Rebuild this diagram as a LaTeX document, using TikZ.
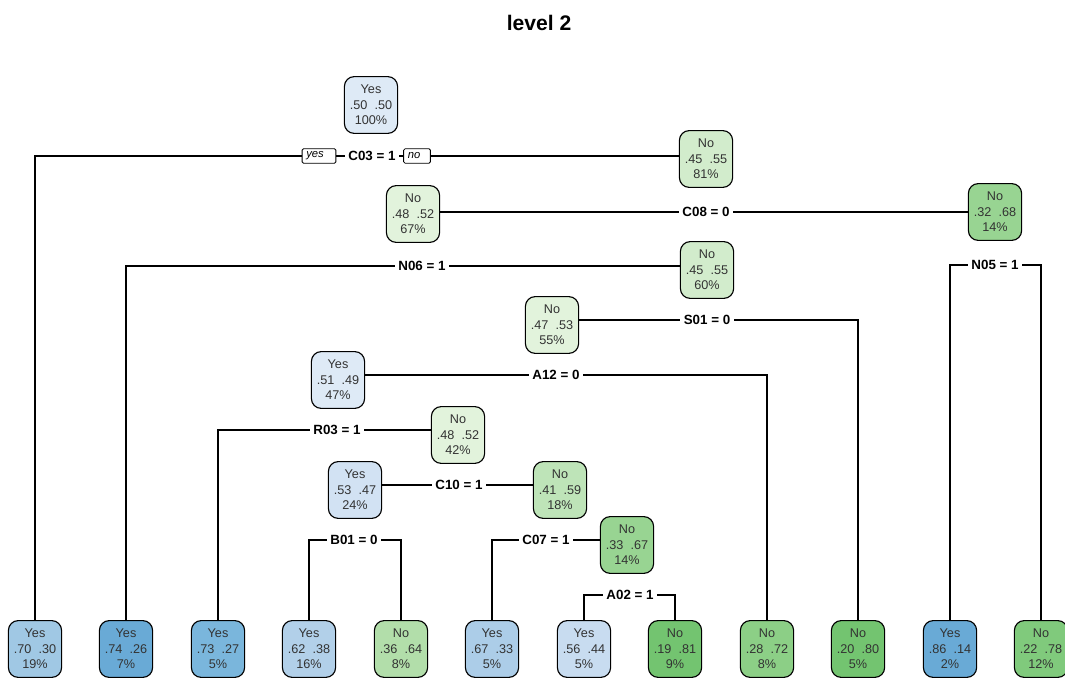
\documentclass[tikz,border=0pt]{standalone}
\usepackage{fontspec}
\setmainfont{Liberation Sans}
\usepackage{xcolor}
\usepackage{tikz}
\usetikzlibrary{positioning}

\definecolor{yesA}{RGB}{222,234,246}
\definecolor{yesB}{RGB}{210,226,243}
\definecolor{yesC}{RGB}{200,220,240}
\definecolor{yesD}{RGB}{178,208,233}
\definecolor{yesE}{RGB}{172,205,232}
\definecolor{yesF}{RGB}{160,200,228}
\definecolor{yesG}{RGB}{122,182,220}
\definecolor{yesH}{RGB}{105,170,214}
\definecolor{noA}{RGB}{226,243,220}
\definecolor{noB}{RGB}{210,236,204}
\definecolor{noC}{RGB}{190,228,184}
\definecolor{noD}{RGB}{178,222,170}
\definecolor{noE}{RGB}{152,212,146}
\definecolor{noF}{RGB}{140,207,134}
\definecolor{noG}{RGB}{128,202,124}
\definecolor{noH}{RGB}{115,196,112}

\begin{document}
\begin{tikzpicture}[
    x=0.025cm, y=-0.025cm,
    tnode/.style={rectangle, draw, rounded corners=7pt, line width=0.8pt, minimum width=1.33cm, minimum height=1.42cm, align=center, inner sep=0pt, font=\fontsize{9}{11}\selectfont, text=black!80},
    split/.style={font=\fontsize{9.5}{10}\selectfont\bfseries, inner xsep=2.5pt, inner ysep=1pt},
    ynbox/.style={rectangle, draw, rounded corners=1pt, fill=white, line width=0.6pt, align=left, inner xsep=3pt, inner ysep=1.5pt, minimum height=0.36cm, font=\fontsize{8}{9}\selectfont\itshape},
    link/.style={line width=0.8pt}
]
\useasboundingbox (0,0) rectangle (1065,678);

\node[font=\fontsize{15}{17}\selectfont\bfseries, anchor=base] (title) at (539,30) {level 2};

% inner nodes
\node[tnode, fill=yesA] (root) at (371,105) {Yes\\.50\ \ .50\\100\%};
\node[tnode, fill=noB] (n81) at (706,159) {No\\.45\ \ .55\\81\%};
\node[tnode, fill=noA] (n67) at (413,214) {No\\.48\ \ .52\\67\%};
\node[tnode, fill=noE] (n14a) at (995,212) {No\\.32\ \ .68\\14\%};
\node[tnode, fill=noB] (n60) at (707,270) {No\\.45\ \ .55\\60\%};
\node[tnode, fill=noA] (n55) at (552,325) {No\\.47\ \ .53\\55\%};
\node[tnode, fill=yesA] (n47) at (338,380) {Yes\\.51\ \ .49\\47\%};
\node[tnode, fill=noA] (n42) at (458,435) {No\\.48\ \ .52\\42\%};
\node[tnode, fill=yesB] (n24) at (355,490) {Yes\\.53\ \ .47\\24\%};
\node[tnode, fill=noC] (n18) at (560,490) {No\\.41\ \ .59\\18\%};
\node[tnode, fill=noE] (n14b) at (627,545) {No\\.33\ \ .67\\14\%};

% leaves
\node[tnode, fill=yesF] (l1) at (35,649) {Yes\\.70\ \ .30\\19\%};
\node[tnode, fill=yesH] (l2) at (126,649) {Yes\\.74\ \ .26\\7\%};
\node[tnode, fill=yesG] (l3) at (218,649) {Yes\\.73\ \ .27\\5\%};
\node[tnode, fill=yesD] (l4) at (309,649) {Yes\\.62\ \ .38\\16\%};
\node[tnode, fill=noD] (l5) at (401,649) {No\\.36\ \ .64\\8\%};
\node[tnode, fill=yesE] (l6) at (492,649) {Yes\\.67\ \ .33\\5\%};
\node[tnode, fill=yesC] (l7) at (584,649) {Yes\\.56\ \ .44\\5\%};
\node[tnode, fill=noH] (l8) at (675,649) {No\\.19\ \ .81\\9\%};
\node[tnode, fill=noF] (l9) at (767,649) {No\\.28\ \ .72\\8\%};
\node[tnode, fill=noH] (l10) at (858,649) {No\\.20\ \ .80\\5\%};
\node[tnode, fill=yesH] (l11) at (950,649) {Yes\\.86\ \ .14\\2\%};
\node[tnode, fill=noG] (l12) at (1041,649) {No\\.22\ \ .78\\12\%};

% split labels
\node[ynbox, text width=18pt] (yes) at (319,156) {yes};
\node[split] (c03) at (372,156) {C03 = 1};
\node[ynbox, text width=13pt] (no) at (417,156) {no};
\node[split] (c08) at (706,212) {C08 = 0};
\node[split] (n06) at (422,266) {N06 = 1};
\node[split] (n05) at (995,265) {N05 = 1};
\node[split] (s01) at (707,320) {S01 = 0};
\node[split] (a12) at (556,375) {A12 = 0};
\node[split] (r03) at (337,430) {R03 = 1};
\node[split] (c10) at (459,485) {C10 = 1};
\node[split] (b01) at (354,540) {B01 = 0};
\node[split] (c07) at (546,540) {C07 = 1};
\node[split] (a02) at (630,595) {A02 = 1};

% connectors
\draw[link] (l1) |- (yes) -- (c03) -- (no) -- (no -| n81.west);
\draw[link] (c08 -| n67.east) -- (c08) -- (c08 -| n14a.west);
\draw[link] (l2) |- (n06) -- (n06 -| n60.west);
\draw[link] (l11) |- (n05) -| (l12);
\draw[link] (s01 -| n55.east) -- (s01) -| (l10);
\draw[link] (a12 -| n47.east) -- (a12) -| (l9);
\draw[link] (l3) |- (r03) -- (r03 -| n42.west);
\draw[link] (c10 -| n24.east) -- (c10) -- (c10 -| n18.west);
\draw[link] (l4) |- (b01) -| (l5);
\draw[link] (l6) |- (c07) -- (c07 -| n14b.west);
\draw[link] (l7) |- (a02) -| (l8);

\end{tikzpicture}
\end{document}
